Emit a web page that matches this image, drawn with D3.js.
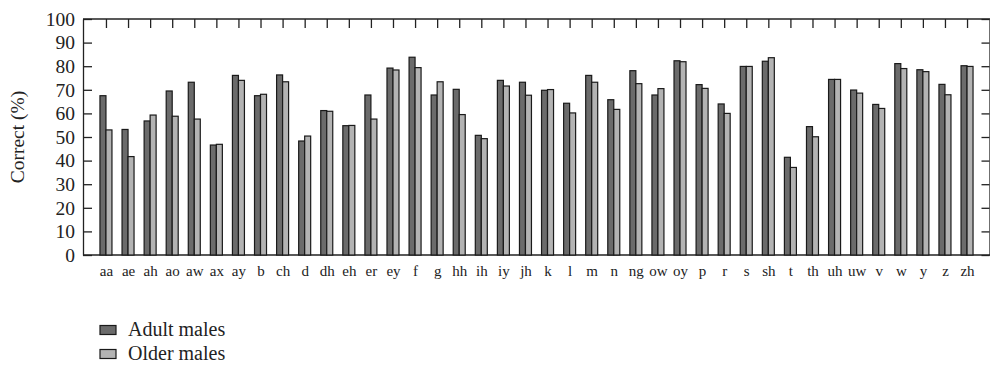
<!DOCTYPE html>
<html>
<head>
<meta charset="utf-8">
<script src="https://cdn.jsdelivr.net/npm/d3@7"></script>
<style>
  html, body { margin: 0; padding: 0; background: #fff; }
  svg { display: block; }
  text { font-family: "Liberation Serif", "DejaVu Serif", serif; fill: #222; }
</style>
</head>
<body>
<svg id="chart" width="990" height="368"></svg>
<script>
const categories = ["aa","ae","ah","ao","aw","ax","ay","b","ch","d","dh","eh","er","ey","f","g","hh","ih","iy","jh","k","l","m","n","ng","ow","oy","p","r","s","sh","t","th","uh","uw","v","w","y","z","zh"];
const adultMales = [67.5,53.2,56.8,69.5,73.2,46.6,76.1,67.5,76.3,48.3,61.2,54.8,67.8,79.2,83.8,67.8,70.2,50.7,74.0,73.2,69.8,64.3,76.1,65.8,78.1,67.8,82.3,72.2,64.0,79.9,82.1,41.4,54.4,74.4,69.9,63.8,81.1,78.5,72.3,80.2];
const olderMales = [53.0,41.7,59.3,58.8,57.6,46.9,74.0,68.1,73.4,50.4,60.9,54.9,57.6,78.4,79.4,73.4,59.5,49.3,71.6,67.7,70.1,60.2,73.2,61.7,72.6,70.5,81.9,70.6,60.0,79.9,83.6,37.1,50.1,74.4,68.6,62.1,79.0,77.7,67.9,79.9];
const yTicks = [0,10,20,30,40,50,60,70,80,90,100];
const seriesNames = ["Adult males","Older males"];
const seriesColors = ["#6b6b6b","#b3b3b3"];

const svg = d3.select("#chart");
const mLeft = 83, mRight = 990, mTop = 19, mBottom = 255;

const x = d3.scalePoint().domain(categories).range([mLeft, mRight]).padding(1.04);
const y = d3.scaleLinear().domain([0, 100]).range([mBottom, mTop]);
const barW = 6;

const gl = svg.append("g").attr("transform", `translate(${mLeft},0)`)
  .call(d3.axisLeft(y).tickValues(yTicks).tickSizeInner(-9).tickSizeOuter(0).tickPadding(8));
const gr = svg.append("g").attr("transform", `translate(${mRight - 0.5},0)`)
  .call(d3.axisRight(y).tickValues(yTicks).tickSizeInner(-8).tickSizeOuter(0).tickFormat(""));
const gt = svg.append("g").attr("transform", `translate(0,${mTop})`)
  .call(d3.axisTop(x).tickSizeInner(-9).tickSizeOuter(0).tickFormat(""));
const gb = svg.append("g").attr("transform", `translate(0,${mBottom})`)
  .call(d3.axisBottom(x).tickSize(0).tickPadding(10));

[gl, gr, gt, gb].forEach(g => {
  g.select(".domain").attr("stroke", "#222").attr("stroke-width", 1.3);
  g.selectAll(".tick line").attr("stroke", "#222").attr("stroke-width", 1.3);
});
gt.select(".domain").remove();
gb.select(".domain").remove();
svg.append("line").attr("x1", mLeft).attr("x2", mRight).attr("y1", mTop).attr("y2", mTop).attr("stroke", "#222").attr("stroke-width", 1.3);
svg.append("line").attr("x1", mLeft).attr("x2", mRight).attr("y1", mBottom).attr("y2", mBottom).attr("stroke", "#222").attr("stroke-width", 1.3);
gl.selectAll(".tick text").attr("font-size", 19.5).attr("font-family", "Liberation Serif").attr("fill", "#222").attr("text-anchor", "end");
gb.selectAll(".tick text").attr("font-size", 15).attr("font-family", "Liberation Serif").attr("fill", "#222");

const bars = svg.append("g");
[adultMales, olderMales].forEach((vals, si) => {
  bars.selectAll(null).data(categories).enter().append("rect")
    .attr("x", d => x(d) - barW + si * barW)
    .attr("y", (d, i) => y(vals[i]))
    .attr("width", barW)
    .attr("height", (d, i) => mBottom - y(vals[i]))
    .attr("fill", seriesColors[si])
    .attr("stroke", "#1a1a1a")
    .attr("stroke-width", 1.2);
});

svg.append("text")
  .attr("transform", `translate(24,${(mTop + mBottom) / 2}) rotate(-90)`)
  .attr("text-anchor", "middle")
  .attr("font-size", 19.5)
  .text("Correct (%)");

const lg = svg.append("g");
seriesNames.forEach((name, i) => {
  const yy = 330 + i * 24;
  lg.append("rect").attr("x", 100).attr("y", yy - 4.5).attr("width", 16).attr("height", 9)
    .attr("fill", seriesColors[i]).attr("stroke", "#1a1a1a").attr("stroke-width", 1.2);
  lg.append("text").attr("x", 128).attr("y", yy + 6).attr("font-size", 20).text(name);
});
</script>
</body>
</html>
